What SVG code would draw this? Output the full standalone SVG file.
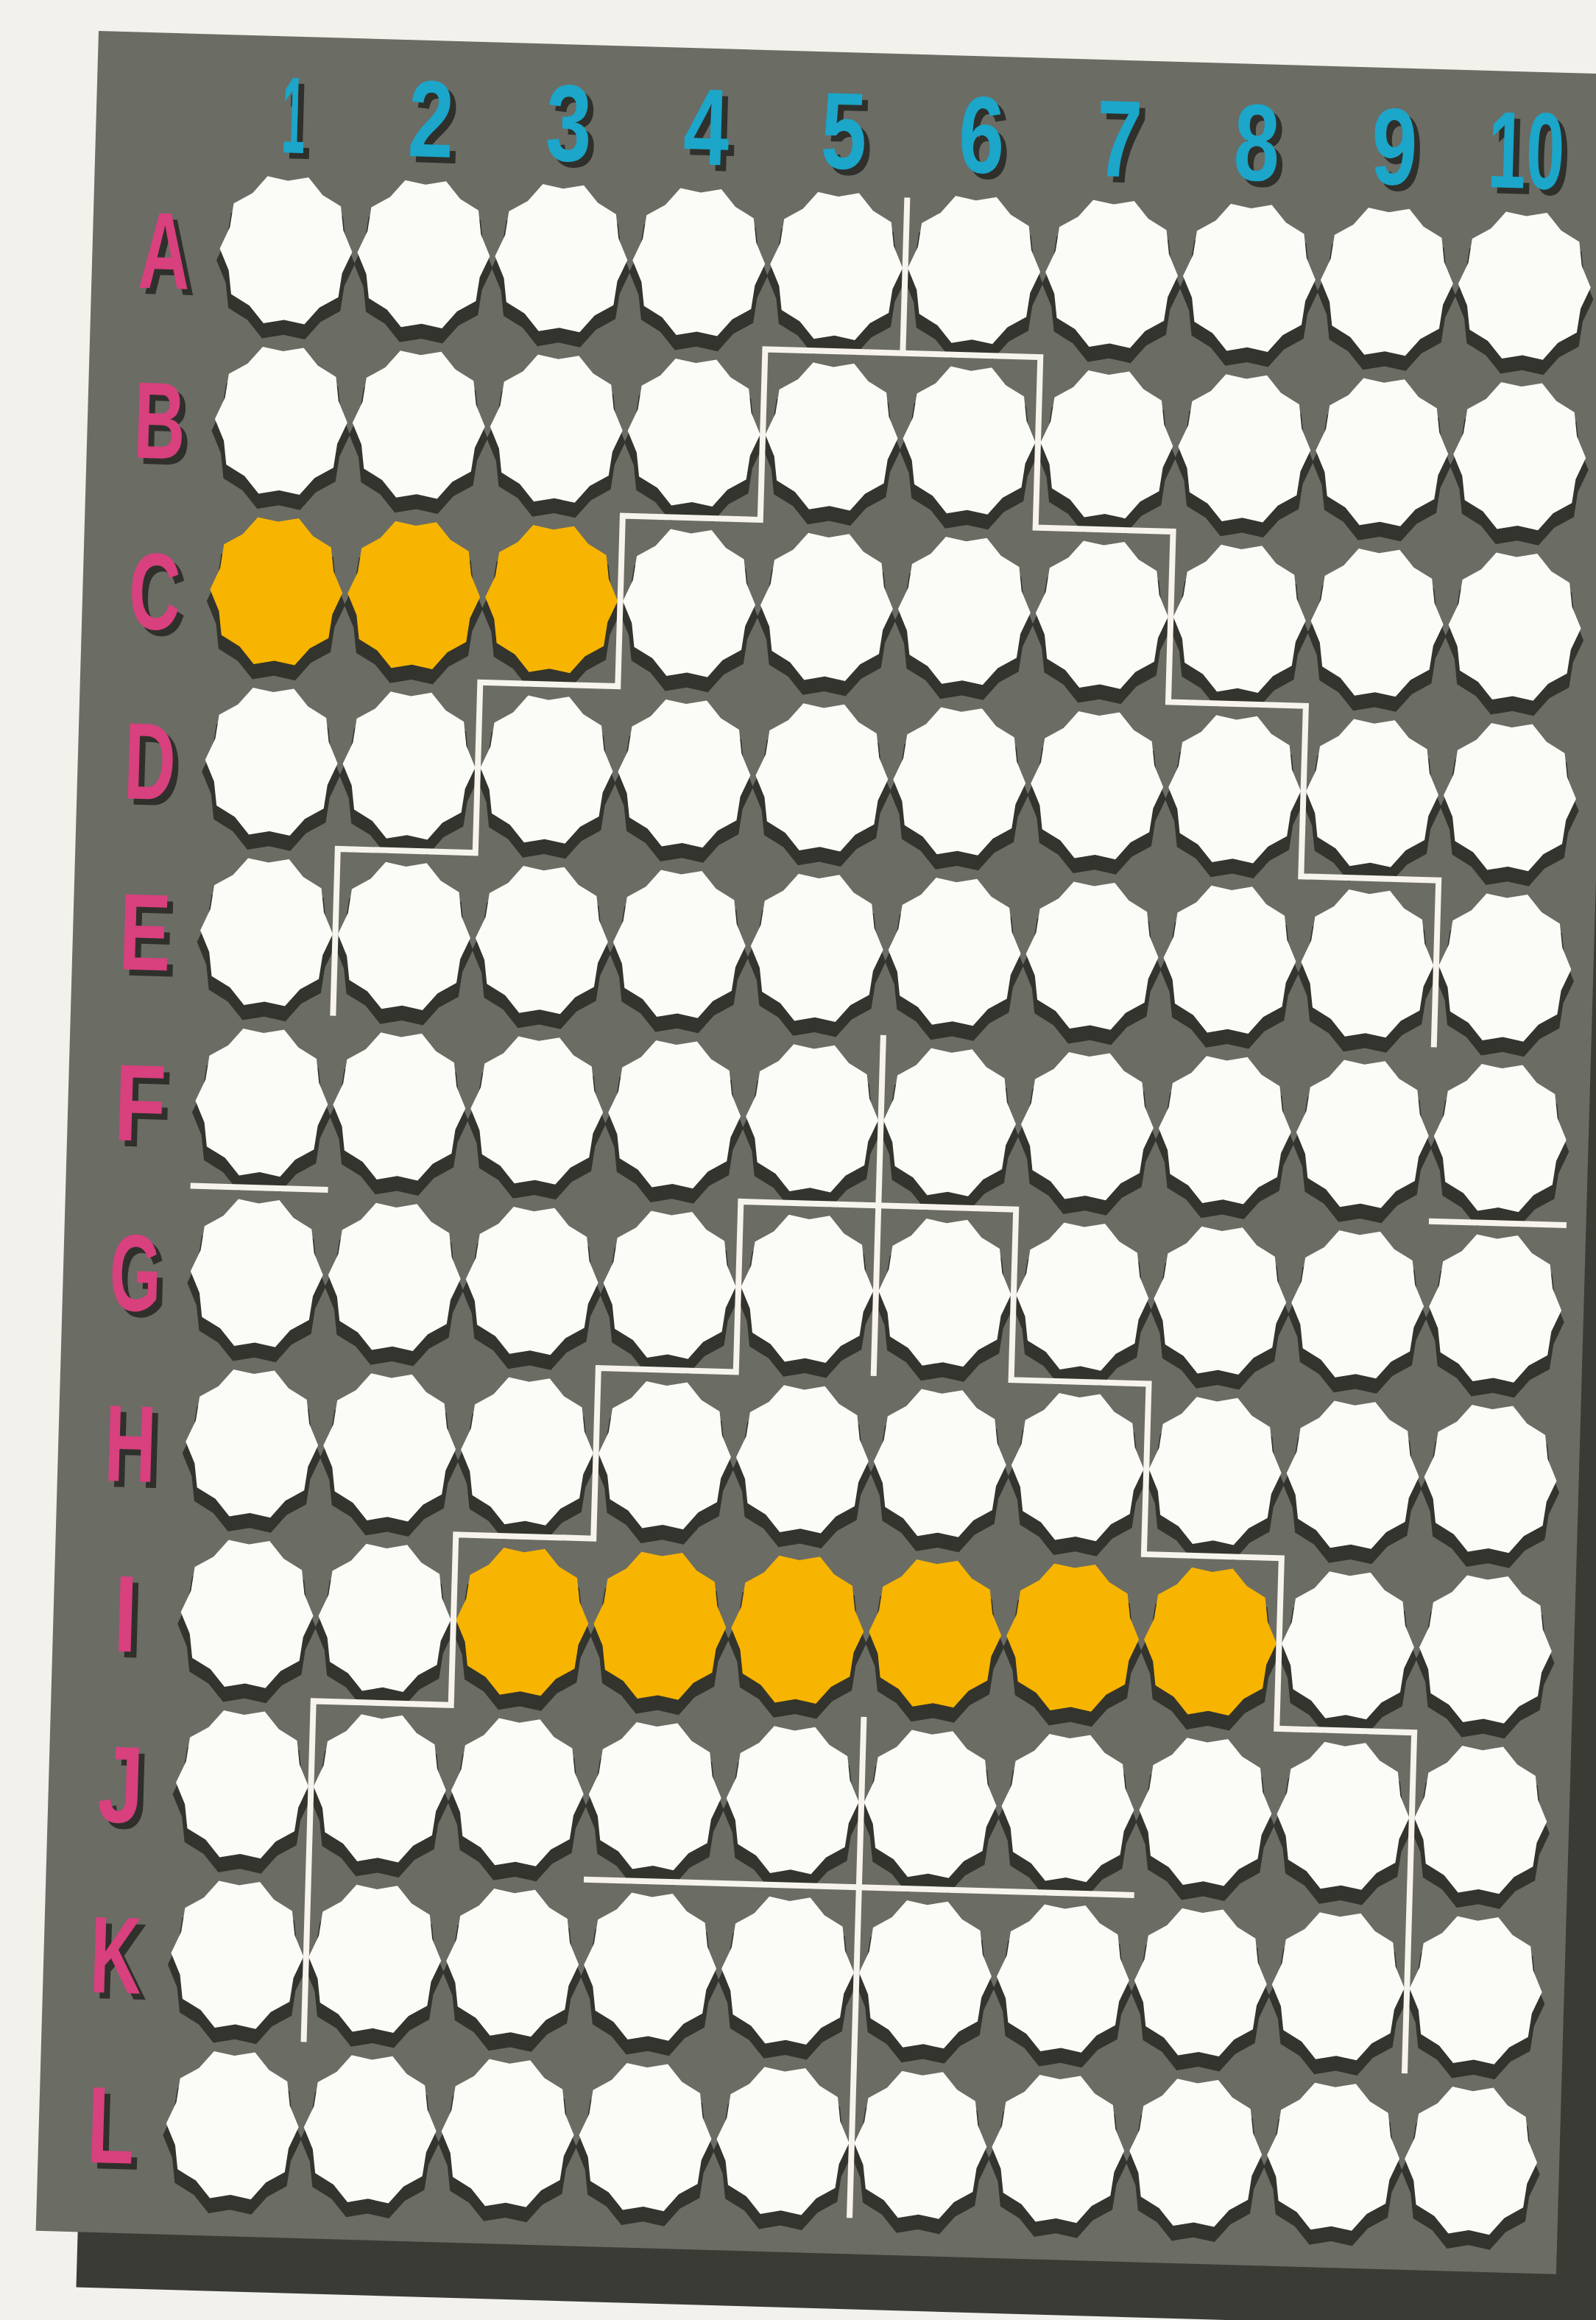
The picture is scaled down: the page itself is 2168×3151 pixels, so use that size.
<svg xmlns="http://www.w3.org/2000/svg" xmlns:xlink="http://www.w3.org/1999/xlink" width="2168" height="3151" viewBox="0 0 2168 3151">
<style>
.num{font-family:"Liberation Sans","Arial",sans-serif;font-weight:bold;font-size:148px;text-anchor:middle}
.lab{fill:#1ba6ca}
.let{fill:#d8407e}
.tsh{fill:#2f302b}
.w{fill:#fbfbf7}
.y{fill:#f7b400}
.s{fill:#33342e}
.ln{fill:none;stroke:#f6f4ec;stroke-width:8;stroke-linejoin:miter}
</style>
<defs>
<path id="cp" d="M90,0 L77.04,-29.2 L72.81,-61.72 L47.61,-76.45 L27.81,-99.86 L0,-94.5 L-27.81,-99.86 L-47.61,-76.45 L-72.81,-61.72 L-77.04,-29.2 L-90,0 L-77.04,29.2 L-72.81,61.72 L-47.61,76.45 L-27.81,99.86 L0,94.5 L27.81,99.86 L47.61,76.45 L72.81,61.72 L77.04,29.2 Z"/>
<path id="sp" transform="translate(0,16) scale(1.045)" d="M90,0 L77.04,-29.2 L72.81,-61.72 L47.61,-76.45 L27.81,-99.86 L0,-94.5 L-27.81,-99.86 L-47.61,-76.45 L-72.81,-61.72 L-77.04,-29.2 L-90,0 L-77.04,29.2 L-72.81,61.72 L-47.61,76.45 L-27.81,99.86 L0,94.5 L27.81,99.86 L47.61,76.45 L72.81,61.72 L77.04,29.2 Z"/>
</defs>
<rect x="0" y="0" width="2168" height="3151" fill="#f2f1ec"/>
<g transform="translate(134 42) rotate(1.636)">
<g id="board">
<rect x="57" y="75" width="2066" height="2989" fill="#3b3b36"/>
<rect x="0" y="0" width="2066" height="2989" fill="#6b6c64"/>
</g>
<g id="column-labels">
<text class="num tsh" x="276" y="166" textLength="32" lengthAdjust="spacingAndGlyphs">1</text>
<text class="num tsh" x="463" y="166" textLength="62" lengthAdjust="spacingAndGlyphs">2</text>
<text class="num tsh" x="650" y="166" textLength="62" lengthAdjust="spacingAndGlyphs">3</text>
<text class="num tsh" x="837" y="166" textLength="62" lengthAdjust="spacingAndGlyphs">4</text>
<text class="num tsh" x="1024" y="166" textLength="62" lengthAdjust="spacingAndGlyphs">5</text>
<text class="num tsh" x="1211" y="166" textLength="62" lengthAdjust="spacingAndGlyphs">6</text>
<text class="num tsh" x="1398" y="166" textLength="62" lengthAdjust="spacingAndGlyphs">7</text>
<text class="num tsh" x="1585" y="166" textLength="62" lengthAdjust="spacingAndGlyphs">8</text>
<text class="num tsh" x="1772" y="166" textLength="62" lengthAdjust="spacingAndGlyphs">9</text>
<text class="num tsh" transform="translate(1951 166) scale(0.63 1)">10</text>
<text class="num lab" x="268" y="158" textLength="32" lengthAdjust="spacingAndGlyphs">1</text>
<text class="num lab" x="455" y="158" textLength="62" lengthAdjust="spacingAndGlyphs">2</text>
<text class="num lab" x="642" y="158" textLength="62" lengthAdjust="spacingAndGlyphs">3</text>
<text class="num lab" x="829" y="158" textLength="62" lengthAdjust="spacingAndGlyphs">4</text>
<text class="num lab" x="1016" y="158" textLength="62" lengthAdjust="spacingAndGlyphs">5</text>
<text class="num lab" x="1203" y="158" textLength="62" lengthAdjust="spacingAndGlyphs">6</text>
<text class="num lab" x="1390" y="158" textLength="62" lengthAdjust="spacingAndGlyphs">7</text>
<text class="num lab" x="1577" y="158" textLength="62" lengthAdjust="spacingAndGlyphs">8</text>
<text class="num lab" x="1764" y="158" textLength="62" lengthAdjust="spacingAndGlyphs">9</text>
<text class="num lab" transform="translate(1943 158) scale(0.63 1)">10</text>
</g>
<g id="row-labels">
<text class="num tsh" x="106" y="355" textLength="70" lengthAdjust="spacingAndGlyphs">A</text>
<text class="num tsh" x="106" y="586" textLength="70" lengthAdjust="spacingAndGlyphs">B</text>
<text class="num tsh" x="106" y="818" textLength="70" lengthAdjust="spacingAndGlyphs">C</text>
<text class="num tsh" x="106" y="1049" textLength="70" lengthAdjust="spacingAndGlyphs">D</text>
<text class="num tsh" x="106" y="1281" textLength="70" lengthAdjust="spacingAndGlyphs">E</text>
<text class="num tsh" x="106" y="1513" textLength="70" lengthAdjust="spacingAndGlyphs">F</text>
<text class="num tsh" x="106" y="1744" textLength="70" lengthAdjust="spacingAndGlyphs">G</text>
<text class="num tsh" x="106" y="1976" textLength="70" lengthAdjust="spacingAndGlyphs">H</text>
<text class="num tsh" x="106" y="2207" textLength="32" lengthAdjust="spacingAndGlyphs">I</text>
<text class="num tsh" x="106" y="2439" textLength="62" lengthAdjust="spacingAndGlyphs">J</text>
<text class="num tsh" x="106" y="2671" textLength="70" lengthAdjust="spacingAndGlyphs">K</text>
<text class="num tsh" x="106" y="2902" textLength="64" lengthAdjust="spacingAndGlyphs">L</text>
<text class="num let" x="98" y="347" textLength="70" lengthAdjust="spacingAndGlyphs">A</text>
<text class="num let" x="98" y="578" textLength="70" lengthAdjust="spacingAndGlyphs">B</text>
<text class="num let" x="98" y="810" textLength="70" lengthAdjust="spacingAndGlyphs">C</text>
<text class="num let" x="98" y="1041" textLength="70" lengthAdjust="spacingAndGlyphs">D</text>
<text class="num let" x="98" y="1273" textLength="70" lengthAdjust="spacingAndGlyphs">E</text>
<text class="num let" x="98" y="1505" textLength="70" lengthAdjust="spacingAndGlyphs">F</text>
<text class="num let" x="98" y="1736" textLength="70" lengthAdjust="spacingAndGlyphs">G</text>
<text class="num let" x="98" y="1968" textLength="70" lengthAdjust="spacingAndGlyphs">H</text>
<text class="num let" x="98" y="2199" textLength="32" lengthAdjust="spacingAndGlyphs">I</text>
<text class="num let" x="98" y="2431" textLength="62" lengthAdjust="spacingAndGlyphs">J</text>
<text class="num let" x="98" y="2663" textLength="70" lengthAdjust="spacingAndGlyphs">K</text>
<text class="num let" x="98" y="2894" textLength="64" lengthAdjust="spacingAndGlyphs">L</text>
</g>
<g id="shadows" class="s">
<g transform="translate(0 290.6)"><use href="#sp" x="262.9"/><use href="#sp" x="449.9"/><use href="#sp" x="636.9"/><use href="#sp" x="823.9"/><use href="#sp" x="1010.9"/><use href="#sp" x="1197.9"/><use href="#sp" x="1384.9"/><use href="#sp" x="1571.9"/><use href="#sp" x="1758.9"/><use href="#sp" x="1945.9"/></g>
<g transform="translate(0 522.2)"><use href="#sp" x="262.9"/><use href="#sp" x="449.9"/><use href="#sp" x="636.9"/><use href="#sp" x="823.9"/><use href="#sp" x="1010.9"/><use href="#sp" x="1197.9"/><use href="#sp" x="1384.9"/><use href="#sp" x="1571.9"/><use href="#sp" x="1758.9"/><use href="#sp" x="1945.9"/></g>
<g transform="translate(0 753.8)"><use href="#sp" x="262.9"/><use href="#sp" x="449.9"/><use href="#sp" x="636.9"/><use href="#sp" x="823.9"/><use href="#sp" x="1010.9"/><use href="#sp" x="1197.9"/><use href="#sp" x="1384.9"/><use href="#sp" x="1571.9"/><use href="#sp" x="1758.9"/><use href="#sp" x="1945.9"/></g>
<g transform="translate(0 985.4)"><use href="#sp" x="262.9"/><use href="#sp" x="449.9"/><use href="#sp" x="636.9"/><use href="#sp" x="823.9"/><use href="#sp" x="1010.9"/><use href="#sp" x="1197.9"/><use href="#sp" x="1384.9"/><use href="#sp" x="1571.9"/><use href="#sp" x="1758.9"/><use href="#sp" x="1945.9"/></g>
<g transform="translate(0 1217)"><use href="#sp" x="262.9"/><use href="#sp" x="449.9"/><use href="#sp" x="636.9"/><use href="#sp" x="823.9"/><use href="#sp" x="1010.9"/><use href="#sp" x="1197.9"/><use href="#sp" x="1384.9"/><use href="#sp" x="1571.9"/><use href="#sp" x="1758.9"/><use href="#sp" x="1945.9"/></g>
<g transform="translate(0 1448.6)"><use href="#sp" x="262.9"/><use href="#sp" x="449.9"/><use href="#sp" x="636.9"/><use href="#sp" x="823.9"/><use href="#sp" x="1010.9"/><use href="#sp" x="1197.9"/><use href="#sp" x="1384.9"/><use href="#sp" x="1571.9"/><use href="#sp" x="1758.9"/><use href="#sp" x="1945.9"/></g>
<g transform="translate(0 1680.2)"><use href="#sp" x="262.9"/><use href="#sp" x="449.9"/><use href="#sp" x="636.9"/><use href="#sp" x="823.9"/><use href="#sp" x="1010.9"/><use href="#sp" x="1197.9"/><use href="#sp" x="1384.9"/><use href="#sp" x="1571.9"/><use href="#sp" x="1758.9"/><use href="#sp" x="1945.9"/></g>
<g transform="translate(0 1911.8)"><use href="#sp" x="262.9"/><use href="#sp" x="449.9"/><use href="#sp" x="636.9"/><use href="#sp" x="823.9"/><use href="#sp" x="1010.9"/><use href="#sp" x="1197.9"/><use href="#sp" x="1384.9"/><use href="#sp" x="1571.9"/><use href="#sp" x="1758.9"/><use href="#sp" x="1945.9"/></g>
<g transform="translate(0 2143.4)"><use href="#sp" x="262.9"/><use href="#sp" x="449.9"/><use href="#sp" x="636.9"/><use href="#sp" x="823.9"/><use href="#sp" x="1010.9"/><use href="#sp" x="1197.9"/><use href="#sp" x="1384.9"/><use href="#sp" x="1571.9"/><use href="#sp" x="1758.9"/><use href="#sp" x="1945.9"/></g>
<g transform="translate(0 2375)"><use href="#sp" x="262.9"/><use href="#sp" x="449.9"/><use href="#sp" x="636.9"/><use href="#sp" x="823.9"/><use href="#sp" x="1010.9"/><use href="#sp" x="1197.9"/><use href="#sp" x="1384.9"/><use href="#sp" x="1571.9"/><use href="#sp" x="1758.9"/><use href="#sp" x="1945.9"/></g>
<g transform="translate(0 2606.6)"><use href="#sp" x="262.9"/><use href="#sp" x="449.9"/><use href="#sp" x="636.9"/><use href="#sp" x="823.9"/><use href="#sp" x="1010.9"/><use href="#sp" x="1197.9"/><use href="#sp" x="1384.9"/><use href="#sp" x="1571.9"/><use href="#sp" x="1758.9"/><use href="#sp" x="1945.9"/></g>
<g transform="translate(0 2838.2)"><use href="#sp" x="262.9"/><use href="#sp" x="449.9"/><use href="#sp" x="636.9"/><use href="#sp" x="823.9"/><use href="#sp" x="1010.9"/><use href="#sp" x="1197.9"/><use href="#sp" x="1384.9"/><use href="#sp" x="1571.9"/><use href="#sp" x="1758.9"/><use href="#sp" x="1945.9"/></g>
</g>
<g id="cells">
<g id="row-A" transform="translate(0 290.6)">
<use id="A1" class="w" href="#cp" x="262.9"/><use id="A2" class="w" href="#cp" x="449.9"/><use id="A3" class="w" href="#cp" x="636.9"/><use id="A4" class="w" href="#cp" x="823.9"/><use id="A5" class="w" href="#cp" x="1010.9"/><use id="A6" class="w" href="#cp" x="1197.9"/><use id="A7" class="w" href="#cp" x="1384.9"/><use id="A8" class="w" href="#cp" x="1571.9"/><use id="A9" class="w" href="#cp" x="1758.9"/><use id="A10" class="w" href="#cp" x="1945.9"/>
</g>
<g id="row-B" transform="translate(0 522.2)">
<use id="B1" class="w" href="#cp" x="262.9"/><use id="B2" class="w" href="#cp" x="449.9"/><use id="B3" class="w" href="#cp" x="636.9"/><use id="B4" class="w" href="#cp" x="823.9"/><use id="B5" class="w" href="#cp" x="1010.9"/><use id="B6" class="w" href="#cp" x="1197.9"/><use id="B7" class="w" href="#cp" x="1384.9"/><use id="B8" class="w" href="#cp" x="1571.9"/><use id="B9" class="w" href="#cp" x="1758.9"/><use id="B10" class="w" href="#cp" x="1945.9"/>
</g>
<g id="row-C" transform="translate(0 753.8)">
<use id="C1" class="y" href="#cp" x="262.9"/><use id="C2" class="y" href="#cp" x="449.9"/><use id="C3" class="y" href="#cp" x="636.9"/><use id="C4" class="w" href="#cp" x="823.9"/><use id="C5" class="w" href="#cp" x="1010.9"/><use id="C6" class="w" href="#cp" x="1197.9"/><use id="C7" class="w" href="#cp" x="1384.9"/><use id="C8" class="w" href="#cp" x="1571.9"/><use id="C9" class="w" href="#cp" x="1758.9"/><use id="C10" class="w" href="#cp" x="1945.9"/>
</g>
<g id="row-D" transform="translate(0 985.4)">
<use id="D1" class="w" href="#cp" x="262.9"/><use id="D2" class="w" href="#cp" x="449.9"/><use id="D3" class="w" href="#cp" x="636.9"/><use id="D4" class="w" href="#cp" x="823.9"/><use id="D5" class="w" href="#cp" x="1010.9"/><use id="D6" class="w" href="#cp" x="1197.9"/><use id="D7" class="w" href="#cp" x="1384.9"/><use id="D8" class="w" href="#cp" x="1571.9"/><use id="D9" class="w" href="#cp" x="1758.9"/><use id="D10" class="w" href="#cp" x="1945.9"/>
</g>
<g id="row-E" transform="translate(0 1217)">
<use id="E1" class="w" href="#cp" x="262.9"/><use id="E2" class="w" href="#cp" x="449.9"/><use id="E3" class="w" href="#cp" x="636.9"/><use id="E4" class="w" href="#cp" x="823.9"/><use id="E5" class="w" href="#cp" x="1010.9"/><use id="E6" class="w" href="#cp" x="1197.9"/><use id="E7" class="w" href="#cp" x="1384.9"/><use id="E8" class="w" href="#cp" x="1571.9"/><use id="E9" class="w" href="#cp" x="1758.9"/><use id="E10" class="w" href="#cp" x="1945.9"/>
</g>
<g id="row-F" transform="translate(0 1448.6)">
<use id="F1" class="w" href="#cp" x="262.9"/><use id="F2" class="w" href="#cp" x="449.9"/><use id="F3" class="w" href="#cp" x="636.9"/><use id="F4" class="w" href="#cp" x="823.9"/><use id="F5" class="w" href="#cp" x="1010.9"/><use id="F6" class="w" href="#cp" x="1197.9"/><use id="F7" class="w" href="#cp" x="1384.9"/><use id="F8" class="w" href="#cp" x="1571.9"/><use id="F9" class="w" href="#cp" x="1758.9"/><use id="F10" class="w" href="#cp" x="1945.9"/>
</g>
<g id="row-G" transform="translate(0 1680.2)">
<use id="G1" class="w" href="#cp" x="262.9"/><use id="G2" class="w" href="#cp" x="449.9"/><use id="G3" class="w" href="#cp" x="636.9"/><use id="G4" class="w" href="#cp" x="823.9"/><use id="G5" class="w" href="#cp" x="1010.9"/><use id="G6" class="w" href="#cp" x="1197.9"/><use id="G7" class="w" href="#cp" x="1384.9"/><use id="G8" class="w" href="#cp" x="1571.9"/><use id="G9" class="w" href="#cp" x="1758.9"/><use id="G10" class="w" href="#cp" x="1945.9"/>
</g>
<g id="row-H" transform="translate(0 1911.8)">
<use id="H1" class="w" href="#cp" x="262.9"/><use id="H2" class="w" href="#cp" x="449.9"/><use id="H3" class="w" href="#cp" x="636.9"/><use id="H4" class="w" href="#cp" x="823.9"/><use id="H5" class="w" href="#cp" x="1010.9"/><use id="H6" class="w" href="#cp" x="1197.9"/><use id="H7" class="w" href="#cp" x="1384.9"/><use id="H8" class="w" href="#cp" x="1571.9"/><use id="H9" class="w" href="#cp" x="1758.9"/><use id="H10" class="w" href="#cp" x="1945.9"/>
</g>
<g id="row-I" transform="translate(0 2143.4)">
<use id="I1" class="w" href="#cp" x="262.9"/><use id="I2" class="w" href="#cp" x="449.9"/><use id="I3" class="y" href="#cp" x="636.9"/><use id="I4" class="y" href="#cp" x="823.9"/><use id="I5" class="y" href="#cp" x="1010.9"/><use id="I6" class="y" href="#cp" x="1197.9"/><use id="I7" class="y" href="#cp" x="1384.9"/><use id="I8" class="y" href="#cp" x="1571.9"/><use id="I9" class="w" href="#cp" x="1758.9"/><use id="I10" class="w" href="#cp" x="1945.9"/>
</g>
<g id="row-J" transform="translate(0 2375)">
<use id="J1" class="w" href="#cp" x="262.9"/><use id="J2" class="w" href="#cp" x="449.9"/><use id="J3" class="w" href="#cp" x="636.9"/><use id="J4" class="w" href="#cp" x="823.9"/><use id="J5" class="w" href="#cp" x="1010.9"/><use id="J6" class="w" href="#cp" x="1197.9"/><use id="J7" class="w" href="#cp" x="1384.9"/><use id="J8" class="w" href="#cp" x="1571.9"/><use id="J9" class="w" href="#cp" x="1758.9"/><use id="J10" class="w" href="#cp" x="1945.9"/>
</g>
<g id="row-K" transform="translate(0 2606.6)">
<use id="K1" class="w" href="#cp" x="262.9"/><use id="K2" class="w" href="#cp" x="449.9"/><use id="K3" class="w" href="#cp" x="636.9"/><use id="K4" class="w" href="#cp" x="823.9"/><use id="K5" class="w" href="#cp" x="1010.9"/><use id="K6" class="w" href="#cp" x="1197.9"/><use id="K7" class="w" href="#cp" x="1384.9"/><use id="K8" class="w" href="#cp" x="1571.9"/><use id="K9" class="w" href="#cp" x="1758.9"/><use id="K10" class="w" href="#cp" x="1945.9"/>
</g>
<g id="row-L" transform="translate(0 2838.2)">
<use id="L1" class="w" href="#cp" x="262.9"/><use id="L2" class="w" href="#cp" x="449.9"/><use id="L3" class="w" href="#cp" x="636.9"/><use id="L4" class="w" href="#cp" x="823.9"/><use id="L5" class="w" href="#cp" x="1010.9"/><use id="L6" class="w" href="#cp" x="1197.9"/><use id="L7" class="w" href="#cp" x="1384.9"/><use id="L8" class="w" href="#cp" x="1571.9"/><use id="L9" class="w" href="#cp" x="1758.9"/><use id="L10" class="w" href="#cp" x="1945.9"/>
</g>
</g>
<g id="connectors" class="ln">
<path d="M1104.4,195 V406.4"/>
<path d="M356.4,1328 V1101.2 H543.4 V869.6 H730.4 V638 H917.4 V406.4 H1291.4 V638 H1478.4 V869.6 H1665.4 V1101.2 H1852.4 V1328"/>
<path d="M169.4,1564.4 H356.4"/>
<path d="M1852.4,1564.4 H2039.4"/>
<path d="M356.4,2722.4 V2259.2 H543.4 V2027.6 H730.4 V1796 H917.4 V1564.4 H1291.4 V1796 H1478.4 V2027.6 H1665.4 V2259.2 H1852.4 V2722.4"/>
<path d="M1104.4,1332.8 V1796"/>
<path d="M1104.4,2259.2 V2940"/>
<path d="M730.4,2490.8 H1478.4"/>
</g>
</g>
</svg>
